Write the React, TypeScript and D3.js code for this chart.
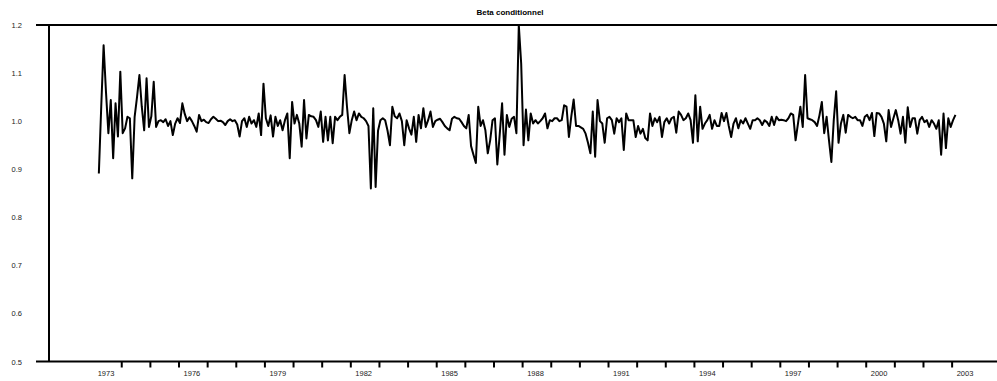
import React, { useEffect, useRef } from 'react';
import * as d3 from 'd3';

// monthly conditional beta, starting October 1972
const startYear = 1972.75;
const betaValues = [
  0.891, 1.03, 1.158, 1.06, 0.975, 1.044, 0.923, 1.037, 0.968, 1.103,
  0.975, 0.985, 1.009, 1.006, 0.881, 1.009, 1.05, 1.096, 1.03, 0.981,
  1.089, 0.988, 1.01, 1.082, 0.988, 1.0, 1.002, 0.998, 1.004, 0.99,
  1.0, 0.971, 0.995, 1.006, 0.996, 1.037, 1.015, 1.0, 1.008, 1.0,
  0.99, 0.978, 1.013, 1.0, 1.003, 0.998, 0.996, 1.004, 1.009, 1.005,
  1.0, 1.001, 0.998, 0.992, 1.0, 1.004, 1.0, 1.002, 0.993, 0.968,
  1.0, 1.006, 0.988, 1.009, 0.995, 1.002, 0.988, 1.016, 0.971, 1.078,
  1.006, 0.99, 1.012, 0.968, 1.009, 0.99, 1.002, 0.981, 1.002, 1.016,
  0.923, 1.04, 0.995, 1.013, 0.995, 0.947, 1.044, 0.964, 1.013, 1.01,
  1.009, 1.002, 0.988, 1.02, 0.957, 1.009, 0.96, 1.009, 0.954, 1.009,
  1.002, 1.009, 1.013, 1.096, 1.03, 0.975, 1.002, 1.02, 1.002, 1.016,
  1.009, 1.006, 1.0, 0.99, 0.86, 1.027, 0.863, 0.98, 1.002, 1.006,
  1.002, 0.98, 0.95, 1.03, 1.01, 1.006, 1.016, 1.0, 0.95, 1.002,
  0.985, 0.972, 1.009, 0.957, 1.013, 0.985, 1.027, 0.988, 1.002, 1.02,
  0.988, 1.0, 1.003, 1.005, 0.998, 0.99, 0.985, 0.981, 1.005, 1.009,
  1.006, 1.005, 0.998, 0.99, 0.985, 1.013, 0.948, 0.93, 0.913, 1.03,
  0.99, 1.002, 0.981, 0.933, 0.96, 1.002, 1.006, 0.91, 0.972, 1.037,
  0.93, 1.013, 0.988, 1.005, 1.009, 0.975, 1.2, 1.12, 0.95, 1.024,
  0.96, 1.016, 0.995, 1.002, 0.995, 1.0, 1.006, 1.016, 0.985, 1.002,
  1.0, 1.006, 1.006, 1.0, 1.002, 1.033, 1.03, 0.967, 1.01, 1.045,
  0.99, 0.99, 0.987, 0.984, 0.974, 0.955, 0.933, 1.02, 0.926, 1.044,
  1.0, 0.995, 0.955, 1.006, 1.009, 1.002, 0.974, 1.006, 0.998, 1.006,
  0.94, 1.016, 1.002, 1.002, 1.002, 0.967, 0.99, 0.974, 0.984, 0.965,
  0.96, 1.016, 0.99, 1.006, 0.998, 1.009, 0.967, 0.998, 1.006, 0.995,
  1.006, 1.009, 0.976, 1.02, 1.013, 1.002, 1.006, 1.016, 1.002, 0.955,
  1.054, 0.958, 1.03, 0.984, 0.995, 1.002, 1.013, 0.984, 1.002, 0.99,
  0.99, 1.017, 1.0, 1.017, 0.99, 0.967, 0.995, 1.006, 0.985, 1.002,
  0.995, 1.006, 0.995, 0.984, 1.002, 1.002, 1.006, 1.002, 0.992, 1.002,
  0.998, 0.99, 1.009, 0.992, 1.009, 1.002, 1.003, 1.002, 1.0, 1.006,
  1.016, 1.013, 0.96, 0.995, 1.03, 0.988, 1.096, 1.006, 1.004, 1.002,
  0.998, 0.99, 1.012, 1.04, 0.975, 1.009, 0.96, 0.915, 1.002, 1.062,
  0.955, 0.995, 1.013, 0.976, 1.013, 1.009, 1.006, 1.009, 1.002, 1.002,
  0.99, 1.009, 1.013, 1.002, 1.017, 0.969, 1.017, 1.016, 1.009, 0.995,
  0.958, 1.023, 0.988, 1.006, 1.023, 1.002, 0.974, 1.009, 0.955, 1.029,
  0.988, 1.006, 1.006, 0.974, 1.002, 1.009, 0.998, 1.002, 0.988, 1.002,
  0.995, 0.984, 1.002, 0.93, 1.016, 0.944, 1.006, 0.988, 1.002, 1.013,
];
const yearLabels = [1973, 1976, 1979, 1982, 1985, 1988, 1991, 1994, 1997, 2000, 2003];
const yearTicks = d3.range(1973, 2003).map(y => y + 0.55);
const yLabels = [0.5, 0.6, 0.7, 0.8, 0.9, 1.0, 1.1, 1.2];

const App = () => {
  const svgRef = useRef<SVGSVGElement>(null);

  useEffect(() => {
    const svg = d3.select(svgRef.current);
    svg.selectAll('*').remove();
    const width = 997;
    const height = 381;
    const font = "'Liberation Sans', Arial, sans-serif";

    const xScale = d3.scaleLinear().domain([1973, 2003]).range([106, 965]);
    const yScale = d3.scaleLinear().domain([0.5, 1.2]).range([361.5, 25]);
    const left = 49;

    svg.attr('width', width).attr('height', height);

    svg.append('text')
      .attr('x', 510)
      .attr('y', 15)
      .attr('text-anchor', 'middle')
      .style('font-family', font)
      .style('font-size', '8px')
      .style('font-weight', 'bold')
      .text('Beta conditionnel');

    // frame
    svg.append('line')
      .attr('x1', 36).attr('x2', width)
      .attr('y1', yScale(1.2)).attr('y2', yScale(1.2))
      .attr('stroke', '#000').attr('stroke-width', 2);
    svg.append('line')
      .attr('x1', 36).attr('x2', width)
      .attr('y1', yScale(0.5)).attr('y2', yScale(0.5))
      .attr('stroke', '#000').attr('stroke-width', 2);
    svg.append('line')
      .attr('x1', left).attr('x2', left)
      .attr('y1', yScale(1.2)).attr('y2', yScale(0.5))
      .attr('stroke', '#000').attr('stroke-width', 2);

    svg.append('g')
      .selectAll('line')
      .data(yearTicks)
      .join('line')
      .attr('x1', d => xScale(d)).attr('x2', d => xScale(d))
      .attr('y1', yScale(0.5)).attr('y2', yScale(0.5) + 6)
      .attr('stroke', '#000').attr('stroke-width', 2);

    svg.append('g')
      .selectAll('text')
      .data(yearLabels)
      .join('text')
      .attr('x', d => xScale(d))
      .attr('y', 376)
      .attr('text-anchor', 'middle')
      .style('font-family', font)
      .style('font-size', '7.5px')
      .style('fill', '#222')
      .text(d => d);

    svg.append('g')
      .selectAll('text')
      .data(yLabels)
      .join('text')
      .attr('x', 22)
      .attr('y', d => yScale(d) + 3)
      .attr('text-anchor', 'end')
      .style('font-family', font)
      .style('font-size', '7.5px')
      .style('fill', '#222')
      .text(d => d.toFixed(1));

    const line = d3.line<number>()
      .x((d, i) => xScale(startYear + i / 12))
      .y(d => yScale(d));

    svg.append('path')
      .datum(betaValues)
      .attr('fill', 'none')
      .attr('stroke', '#000')
      .attr('stroke-width', 2)
      .attr('stroke-linejoin', 'round')
      .attr('d', line);
  }, []);

  return (
    <div id="beta-chart" style={{ position: 'absolute', left: 0, top: 0 }}>
      <svg ref={svgRef}></svg>
    </div>
  );
};

export default App;
